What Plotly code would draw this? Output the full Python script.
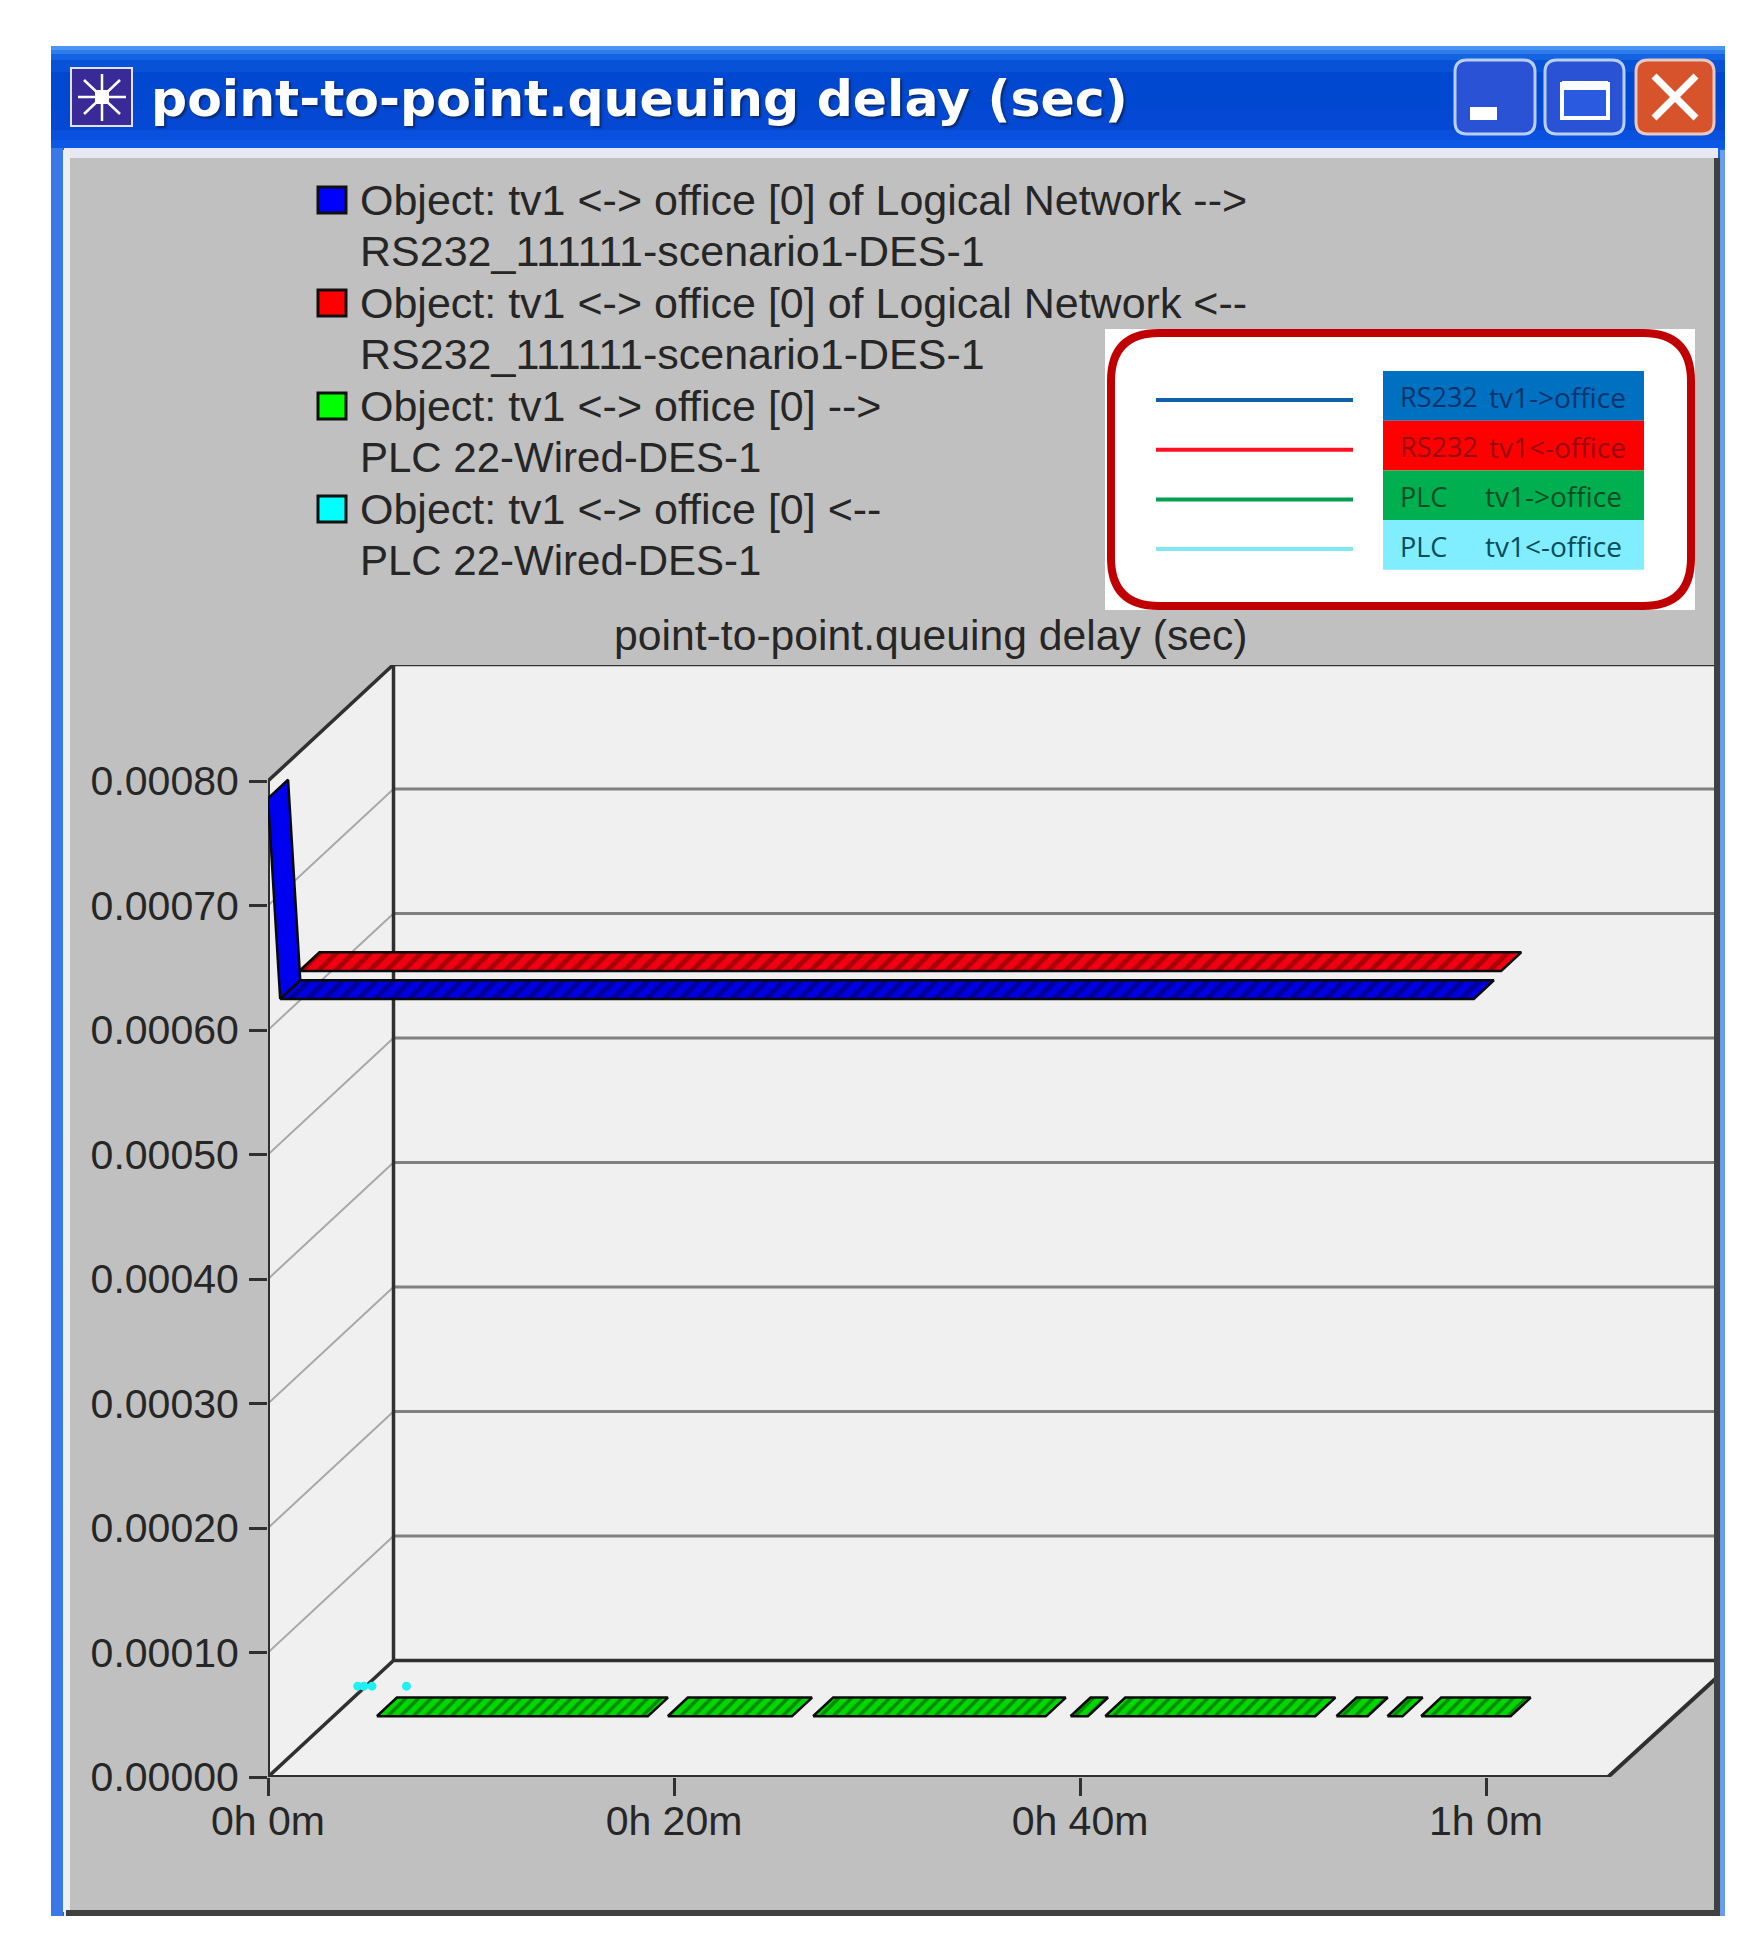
import plotly.graph_objects as go

# ---------- data ----------
X_TICKS_MIN = [0, 20, 40, 60]
X_TICK_LABELS = ["0h 0m", "0h 20m", "0h 40m", "1h 0m"]
Y_TICKS = [0.0, 0.0001, 0.0002, 0.0003, 0.0004, 0.0005, 0.0006, 0.0007, 0.0008]
Y_TICK_LABELS = ["0.00000", "0.00010", "0.00020", "0.00030", "0.00040",
                 "0.00050", "0.00060", "0.00070", "0.00080"]

BLUE_SPIKE_T = [0.0, 0.6]
BLUE_SPIKE_V = [0.000786, 0.000625]
BLUE_T = [0.6, 59.4]
BLUE_V = [0.000625, 0.000625]
RED_T = [0.0, 59.2]
RED_V = [0.000624, 0.000624]
GREEN_SEGMENTS_T = [(2.27, 15.62), (16.60, 22.72), (23.76, 35.22), (36.44, 37.30),
                    (38.15, 48.50), (49.54, 51.08), (52.05, 52.80), (53.71, 58.12)]
GREEN_V = 0.000002
CYAN_T = [-0.4, -0.1, 0.3, 2.0]
CYAN_V = [0.0, 0.0, 0.0, 0.0]

LEGEND_ROWS = [
    ("#0000ff", "Object: tv1 <-> office [0] of Logical Network -->", "RS232_111111-scenario1-DES-1", 43),
    ("#ff0000", "Object: tv1 <-> office [0] of Logical Network <--", "RS232_111111-scenario1-DES-1", 43),
    ("#00ff00", "Object: tv1 <-> office [0] -->", "PLC 22-Wired-DES-1", 42),
    ("#00ffff", "Object: tv1 <-> office [0] <--", "PLC 22-Wired-DES-1", 42),
]
INSET_ROWS = [
    ("#0f5fa8", "#0070c0", "RS232", "tv1->office", "#06346a", 1487),
    ("#ff1020", "#ff0000", "RS232", "tv1<-office", "#980810", 1487),
    ("#00a050", "#00b050", "PLC", "tv1->office", "#004c24", 1483),
    ("#80e8f0", "#80eeff", "PLC", "tv1<-office", "#084c5c", 1483),
]

# ---------- layout constants ----------
W, H = 1755, 1952
PX_X0, PX_X60 = 268.0, 1486.0
PX_Y0, PX_Y8 = 1777.0, 781.0
PX_RIGHT = 1724.0
PX_TOP = 665.0
XMAX = (PX_RIGHT - PX_X0) / (PX_X60 - PX_X0) * 60
YMAX = (PX_Y0 - PX_TOP) / (PX_Y0 - PX_Y8) * 0.0008
DEPTH_DX = 125.5 / (PX_X60 - PX_X0) * 60      # minutes per unit depth
DEPTH_DY = 116.5 / (PX_Y0 - PX_Y8) * 0.0008   # seconds per unit depth
FRONT_END_T = (1608.0 - PX_X0) / (PX_X60 - PX_X0) * 60


def px(x):
    return x / W


def py(y):
    return 1 - y / H


def proj(t, v, d):
    return t + d * DEPTH_DX, v + d * DEPTH_DY


def rect(x0, y0, x1, y1, fill, layer="below", line=None, lw=0):
    return dict(type="rect", xref="paper", yref="paper", x0=px(x0), x1=px(x1),
                y0=py(y0), y1=py(y1), fillcolor=fill, layer=layer,
                line=dict(color=line or fill, width=lw))


def rrect(x0, y0, x1, y1, r, fill, line, lw, layer="below"):
    a, b, c, d = px(x0), px(x1), py(y0), py(y1)
    rx, ry = r / W, r / H
    p = (f"M{a+rx},{c} L{b-rx},{c} Q{b},{c} {b},{c-ry} L{b},{d+ry} Q{b},{d} {b-rx},{d} "
         f"L{a+rx},{d} Q{a},{d} {a},{d+ry} L{a},{c-ry} Q{a},{c} {a+rx},{c} Z")
    return dict(type="path", xref="paper", yref="paper", path=p, fillcolor=fill,
                line=dict(color=line, width=lw), layer=layer)


def seg(x0, y0, x1, y1, color, w, layer="below"):
    return dict(type="line", xref="paper", yref="paper", x0=px(x0), x1=px(x1),
                y0=py(y0), y1=py(y1), line=dict(color=color, width=w), layer=layer)


def label(x, y, text, size, color="#262626", family="Liberation Sans",
          anchor="left", **fontkw):
    return dict(xref="paper", yref="paper", x=px(x), y=py(y), text=text, showarrow=False,
                xanchor=anchor, yanchor="middle",
                font=dict(family=family, size=size, color=color, **fontkw))


shapes, annotations = [], []

# window chrome
BOTTOM = 1916
shapes.append(rect(51, 46, 1725, BOTTOM, "#1a5fe0"))
bar = [(46, "#4a94f2"), (50, "#2e7cec"), (54, "#1464e2"), (60, "#0852d8"), (72, "#0048d0"),
       (110, "#0448d4"), (130, "#0a50de"), (140, "#0c58e6"), (148, "#0a50dc")]
for (y0, c), (y1, _) in zip(bar[:-1], bar[1:]):
    shapes.append(rect(51, y0, 1725, y1, c))
shapes.append(rect(64, 148, 1718, BOTTOM, "#e8e8f2"))
shapes.append(rect(70, 158, 1716, BOTTOM - 6, "#c0c0c0"))
shapes.append(rect(51, 148, 63, BOTTOM, "#3a78e6"))
shapes.append(rect(63, 150, 70, BOTTOM - 4, "#eef0f0"))

# window icon
shapes.append(rect(71, 68, 132, 126, "#3a2a98", line="#dfe4f5", lw=2))
for a, b, c, d in [(78, 97, 126, 97), (102, 74, 102, 121), (84, 80, 120, 114), (84, 114, 120, 80)]:
    shapes.append(seg(a, b, c, d, "#ffffff", 2.5))
shapes.append(rect(95, 90, 109, 104, "#ffffff"))
annotations.append(label(149, 98, "point-to-point.queuing delay (sec)", 50.5, "#ffffff",
                         "DejaVu Sans", weight="bold", shadow="2px 2px 2px #0a2a70"))

# window buttons
shapes.append(rrect(1455, 60, 1535, 134, 12, "#2a52d4", "#b8d0f8", 3))
shapes.append(rect(1470, 107, 1497, 120, "#ffffff"))
shapes.append(rrect(1545, 60, 1624, 134, 12, "#2a52d4", "#b8d0f8", 3))
shapes.append(rect(1562, 84, 1608, 118, "#2a5ae0", line="#ffffff", lw=4))
shapes.append(rect(1562, 81, 1608, 90, "#ffffff"))
shapes.append(rrect(1636, 60, 1714, 134, 12, "#d6532c", "#e8c8c0", 3))
shapes.append(seg(1654, 76, 1696, 118, "#ffffff", 7))
shapes.append(seg(1654, 118, 1696, 76, "#ffffff", 7))

# window inner frame (right and bottom)
shapes.append(rect(1714, 158, 1720, BOTTOM - 2, "#404040", layer="above"))
shapes.append(rect(1720, 150, 1725, BOTTOM, "#6a9cee", layer="above"))
shapes.append(rect(66, BOTTOM - 6, 1720, BOTTOM, "#404040", layer="above"))

# legend
for i, (col, l1, l2, size2) in enumerate(LEGEND_ROWS):
    yc = 200 + i * 103
    shapes.append(rect(318, yc - 13, 346, yc + 13, col, line="#101010", lw=3))
    annotations.append(label(358, yc, l1, 43))
    annotations.append(label(358, yc + 51, l2, size2))

# red-outlined inset key
shapes.append(rect(1105, 329, 1695, 610, "#ffffff"))
shapes.append(rrect(1111, 333, 1691, 606, 48, "#ffffff", "#c00000", 8))
for i, (lc, bc, a, b, tc, bx_px) in enumerate(INSET_ROWS):
    y0 = 371 + i * 49.7
    shapes.append(rect(1383, y0, 1644, y0 + 49.7, bc))
    shapes.append(seg(1156, y0 + 29, 1353, y0 + 29, lc, 4))
    annotations.append(label(1398, y0 + 26, a, 27, tc, "Open Sans"))
    annotations.append(label(bx_px, y0 + 26, b, 28, tc, "Open Sans"))

annotations.append(label(931, 635, "point-to-point.queuing delay (sec)", 42.7, anchor="center"))

# ---------- plot ----------
fig = go.Figure()


def line_trace(xs, ys, color, width, name):
    fig.add_trace(go.Scatter(x=xs, y=ys, mode="lines", line=dict(color=color, width=width),
                             name=name, showlegend=False, hoverinfo="skip", cliponaxis=False))


# walls and floor
top = Y_TICKS[-1]
bx, by = proj(0, top, 1)
fx, fy = proj(0, 0, 1)
fig.add_trace(go.Scatter(
    x=[0, bx, XMAX, XMAX, FRONT_END_T, 0, 0],
    y=[top, by, by, proj(0, 0, 0.91)[1], 0, 0, top],
    mode="lines", fill="toself", fillcolor="#f0f0f0", line=dict(width=0),
    name="walls", showlegend=False, hoverinfo="skip", cliponaxis=False))

# gridlines
gx_slant, gy_slant, gx_back, gy_back = [], [], [], []
for v in Y_TICKS[1:-1]:
    x1, y1 = proj(0, v, 1)
    gx_slant += [0, x1, None]
    gy_slant += [v, y1, None]
    gx_back += [x1, XMAX, None]
    gy_back += [y1, y1, None]
line_trace(gx_slant, gy_slant, "#a8a8a8", 2, "grid slanted")
line_trace(gx_back, gy_back, "#808080", 3, "grid back")

# frame lines
line_trace([0, 0], [0, top], "#303030", 4, "front axis")
line_trace([0, bx, XMAX], [top, by, by], "#303030", 3.5, "top edge")
line_trace([bx, bx], [by, fy], "#303030", 3.5, "back edge")
line_trace([0, fx, XMAX], [0, fy, fy], "#303030", 3.5, "floor back")
line_trace([0, FRONT_END_T, XMAX], [0, 0, proj(0, 0, 0.91)[1]], "#303030", 4, "floor front")


def ribbon(segments, d0, d1):
    xs, ys = [], []
    for ts, vs in segments:
        fr = [proj(t, v, d0) for t, v in zip(ts, vs)]
        bk = [proj(t, v, d1) for t, v in zip(ts, vs)][::-1]
        poly = fr + bk + fr[:1]
        xs += [p[0] for p in poly] + [None]
        ys += [p[1] for p in poly] + [None]
    return xs, ys


def add_ribbon(segments, d0, d1, name, bg, fg, hatch_size=0):
    xs, ys = ribbon(segments, d0, d1)
    kw = dict(fillcolor=bg)
    if hatch_size:
        kw["fillpattern"] = dict(shape="/", size=hatch_size, solidity=0.4, bgcolor=bg, fgcolor=fg)
    fig.add_trace(go.Scatter(x=xs, y=ys, mode="lines", fill="toself", name=name,
                             line=dict(color="#0a0a0a", width=2.5), showlegend=False,
                             hoverinfo="skip", cliponaxis=False, **kw))


add_ribbon([(RED_T, RED_V)], 0.25, 0.41, "RS232 tv1<-office", "#f00010", "#600000", 12)
add_ribbon([(BLUE_T, BLUE_V)], 0.0, 0.16, "RS232 tv1->office", "#0000e0", "#000050", 12)
add_ribbon([(BLUE_SPIKE_T, BLUE_SPIKE_V)], 0.0, 0.16, "RS232 tv1->office start", "#0000f0", "#0000f0")
add_ribbon([(list(s), [GREEN_V, GREEN_V]) for s in GREEN_SEGMENTS_T], 0.5, 0.66,
           "PLC tv1->office", "#00d800", "#003800", 9)
cx, cy = zip(*[proj(t, v, 0.78) for t, v in zip(CYAN_T, CYAN_V)])
fig.add_trace(go.Scatter(x=cx, y=cy, mode="markers", name="PLC tv1<-office",
                         marker=dict(color="#20f0f0", size=9, line=dict(width=0)),
                         showlegend=False, hoverinfo="skip", cliponaxis=False))

tick_font = dict(family="Liberation Sans", size=41, color="#262626")
fig.update_layout(
    width=W, height=H, margin=dict(l=0, r=0, t=0, b=0, autoexpand=False), autosize=False,
    paper_bgcolor="#ffffff", plot_bgcolor="rgba(0,0,0,0)", showlegend=False,
    shapes=shapes, annotations=annotations,
    xaxis=dict(domain=[px(PX_X0), px(PX_RIGHT)], range=[0, XMAX], tickmode="array",
               tickvals=X_TICKS_MIN, ticktext=X_TICK_LABELS, ticks="outside", ticklen=18,
               tickwidth=3, tickcolor="#303030", tickfont=tick_font, showgrid=False,
               zeroline=False, showline=False, ticklabelstandoff=-10, automargin=False),
    yaxis=dict(domain=[py(PX_Y0), py(PX_TOP)], range=[0, YMAX], tickmode="array",
               tickvals=Y_TICKS, ticktext=Y_TICK_LABELS, ticks="outside", ticklen=18,
               tickwidth=3, tickcolor="#303030", tickfont=tick_font, showgrid=False,
               zeroline=False, showline=False, ticklabelstandoff=2, automargin=False),
)

fig.write_html("out.html", config={"displayModeBar": False},
               post_script="document.body.style.margin='0';")
